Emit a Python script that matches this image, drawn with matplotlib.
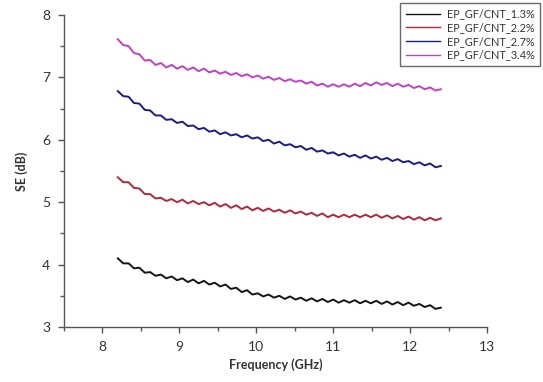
import matplotlib
matplotlib.use("Agg")
import matplotlib.pyplot as plt
from matplotlib.ticker import MultipleLocator

freq = [8.20, 8.27, 8.34, 8.41, 8.48, 8.55, 8.62, 8.69, 8.76, 8.83,
        8.90, 8.97, 9.04, 9.11, 9.18, 9.25, 9.32, 9.39, 9.46, 9.53,
        9.60, 9.67, 9.74, 9.81, 9.88, 9.95, 10.02, 10.09, 10.16, 10.23,
        10.30, 10.37, 10.44, 10.51, 10.58, 10.65, 10.72, 10.79, 10.86, 10.93,
        11.00, 11.07, 11.14, 11.21, 11.28, 11.35, 11.42, 11.49, 11.56, 11.63,
        11.70, 11.77, 11.84, 11.91, 11.98, 12.05, 12.12, 12.19, 12.26, 12.33,
        12.40]

se_13 = [4.10, 4.02, 4.02, 3.94, 3.95, 3.87, 3.88, 3.82, 3.84, 3.78,
         3.81, 3.75, 3.78, 3.72, 3.76, 3.70, 3.74, 3.68, 3.71, 3.65,
         3.68, 3.61, 3.63, 3.56, 3.59, 3.52, 3.54, 3.49, 3.52, 3.47,
         3.50, 3.45, 3.49, 3.44, 3.47, 3.42, 3.46, 3.41, 3.45, 3.40,
         3.44, 3.39, 3.43, 3.39, 3.43, 3.38, 3.42, 3.38, 3.42, 3.37,
         3.41, 3.36, 3.40, 3.35, 3.39, 3.34, 3.37, 3.32, 3.35, 3.29,
         3.31]

se_22 = [5.40, 5.32, 5.32, 5.23, 5.22, 5.13, 5.13, 5.06, 5.07, 5.02,
         5.05, 5.00, 5.04, 4.98, 5.02, 4.97, 5.00, 4.95, 4.99, 4.93,
         4.97, 4.91, 4.95, 4.89, 4.93, 4.87, 4.91, 4.86, 4.90, 4.85,
         4.88, 4.83, 4.87, 4.82, 4.85, 4.80, 4.83, 4.78, 4.82, 4.76,
         4.80, 4.76, 4.80, 4.76, 4.80, 4.76, 4.80, 4.76, 4.80, 4.75,
         4.79, 4.74, 4.78, 4.73, 4.77, 4.72, 4.76, 4.71, 4.75, 4.71,
         4.74]

se_27 = [6.78, 6.70, 6.69, 6.59, 6.58, 6.48, 6.47, 6.39, 6.39, 6.32,
         6.33, 6.27, 6.29, 6.22, 6.23, 6.17, 6.19, 6.13, 6.15, 6.09,
         6.12, 6.07, 6.09, 6.04, 6.07, 6.02, 6.04, 5.98, 6.00, 5.94,
         5.97, 5.91, 5.93, 5.88, 5.90, 5.84, 5.87, 5.81, 5.83, 5.78,
         5.80, 5.75, 5.78, 5.73, 5.76, 5.71, 5.75, 5.70, 5.73, 5.68,
         5.71, 5.66, 5.69, 5.64, 5.66, 5.61, 5.64, 5.59, 5.62, 5.56,
         5.58]

se_34 = [7.61, 7.52, 7.50, 7.39, 7.37, 7.27, 7.28, 7.20, 7.23, 7.16,
         7.20, 7.14, 7.18, 7.12, 7.16, 7.10, 7.14, 7.08, 7.11, 7.06,
         7.09, 7.04, 7.07, 7.02, 7.05, 7.00, 7.03, 6.98, 7.01, 6.96,
         6.99, 6.94, 6.97, 6.93, 6.95, 6.90, 6.93, 6.87, 6.90, 6.85,
         6.89, 6.85, 6.89, 6.85, 6.90, 6.86, 6.91, 6.87, 6.92, 6.88,
         6.91, 6.86, 6.90, 6.85, 6.88, 6.83, 6.86, 6.81, 6.84, 6.79,
         6.81]

labels = ["EP_GF/CNT_1.3%", "EP_GF/CNT_2.2%", "EP_GF/CNT_2.7%", "EP_GF/CNT_3.4%"]
series = [se_13, se_22, se_27, se_34]
colors = ["#151515", "#b0283a", "#1c1c86", "#c040c8"]

plt.rcParams['font.family'] = ['Lato', 'DejaVu Sans']

fig = plt.figure(figsize=(5.43, 3.82), dpi=100)
ax = fig.add_axes([64/543, 1-327/382, (487-64)/543, (327-15)/382])

for s, c, l in zip(series, colors, labels):
    ax.plot(freq, s, color=c, lw=1.4, label=l)

ax.set_xlim(7.5, 13)
ax.set_ylim(3, 8)
ax.xaxis.set_major_locator(MultipleLocator(1))
ax.xaxis.set_minor_locator(MultipleLocator(0.5))
ax.yaxis.set_major_locator(MultipleLocator(1))
ax.yaxis.set_minor_locator(MultipleLocator(0.5))
for sp in ['top', 'right']:
    ax.spines[sp].set_visible(False)
for sp in ['left', 'bottom']:
    ax.spines[sp].set_color('#555555')
    ax.spines[sp].set_linewidth(1.0)
ax.tick_params(which='major', direction='out', length=4, width=1, color='#555555',
               labelsize=10, labelcolor='#333333', pad=6)
ax.tick_params(which='minor', direction='out', length=3, width=1, color='#555555')

ax.set_xlabel("Frequency (GHz)", fontsize=9, fontweight='bold', color='#333333', labelpad=4)
ax.set_ylabel("SE (dB)", fontsize=9, fontweight='bold', color='#333333', labelpad=10)

leg = ax.legend(loc='upper right', bbox_to_anchor=(540/543, 1-3/382),
                bbox_transform=fig.transFigure, borderaxespad=0,
                fontsize=7.8, frameon=True, fancybox=False,
                handlelength=3.2, handletextpad=0.6, labelspacing=0.25,
                borderpad=0.5)
leg.get_frame().set_edgecolor('#444444')
leg.get_frame().set_linewidth(1.0)
for line in leg.get_lines():
    line.set_linewidth(1.0)
for t in leg.get_texts():
    t.set_color('#333333')

fig.savefig("out.png", dpi=100)
